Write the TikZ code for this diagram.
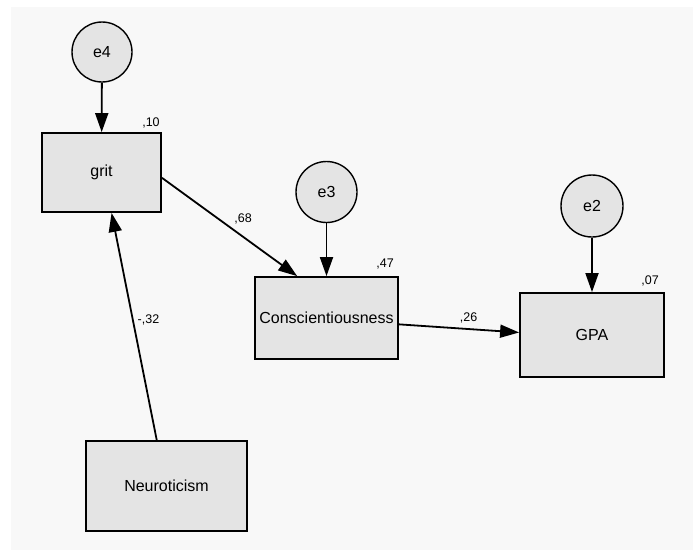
\documentclass[tikz,border=0pt]{standalone}
\usepackage{fontspec}
\setmainfont{Liberation Sans}
\usepackage{tikz}
\usetikzlibrary{arrows.meta}
\usepackage{xcolor}
\definecolor{fundo}{HTML}{F8F8F8}
\definecolor{caixa}{HTML}{E4E4E4}

\begin{document}
\begin{tikzpicture}[x=1pt, y=-1pt,
    var/.style={draw, line width=1.8pt, fill=caixa, inner sep=0pt, font=\fontsize{16}{19}\selectfont},
    erro/.style={draw, circle, line width=1.4pt, fill=caixa, inner sep=0pt, minimum size=60pt, font=\fontsize{16}{19}\selectfont},
    seta/.style={line width=1.8pt, -{Triangle[length=19pt, width=13pt]}},
    coef/.style={font=\fontsize{12.5}{15}\selectfont, inner sep=1pt}]
    % fundo
    \useasboundingbox (0,0) rectangle (693,550);
    \fill[fundo] (11,7) rectangle (693,550);

    % variaveis observadas
    \node[var, minimum width=119pt, minimum height=79pt] (grit) at (101.5,172.5) {grit};
    \node[var, minimum width=143pt, minimum height=82pt] (consc) at (326.5,318) {Conscientiousness};
    \node[var, minimum width=144pt, minimum height=84pt] (gpa) at (592,335) {GPA};
    \node[var, minimum width=161pt, minimum height=90pt] (neuro) at (166.5,486) {Neuroticism};

    % erros
    \node[erro] (e4) at (102,52) {e4};
    \node[erro, minimum size=61pt] (e3) at (326.5,192) {e3};
    \node[erro, minimum size=62pt] (e2) at (592,206) {e2};

    % R2
    \node[coef, anchor=south east, xshift=-1pt, yshift=3pt] (r2grit) at (grit.north east) {,10};
    \node[coef, anchor=south east, xshift=-4pt, yshift=6pt] (r2consc) at (consc.north east) {,47};
    \node[coef, anchor=south east, xshift=-5pt, yshift=5pt] (r2gpa) at (gpa.north east) {,07};

    % caminhos
    \draw[seta] (e4) -- (grit);
    \draw[seta] (e3) -- (consc);
    \draw[seta] (e2) -- (gpa);
    \draw[seta] (grit.-5) -- node[coef, pos=0.6, above=11pt] (b68) {,68} (consc.125);
    \draw[seta] (consc.-5.6) -- node[coef, pos=0.58, above=4pt] (b26) {,26} (gpa.178);
    \draw[seta] (neuro.102) -- node[coef, pos=0.53, right=3pt] (b32) {-,32} (grit.-76.5);
\end{tikzpicture}
\end{document}
